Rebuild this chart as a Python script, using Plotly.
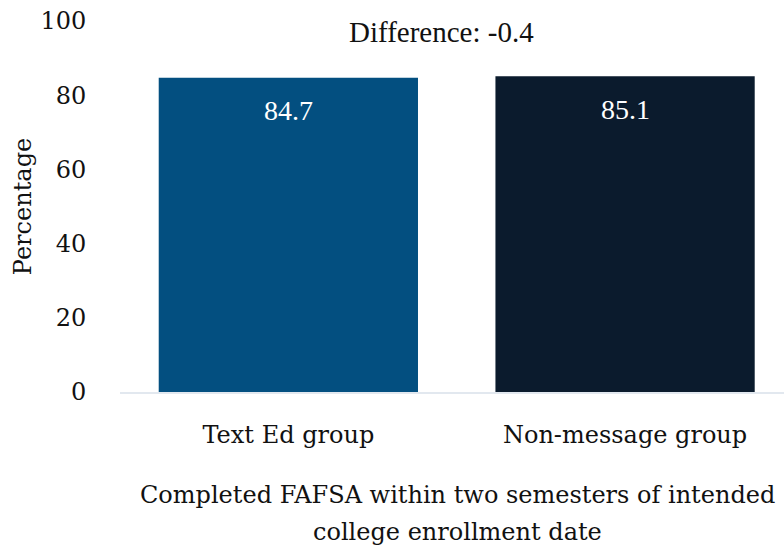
import plotly.graph_objects as go

categories = ["Text Ed group", "Non-message group"]
values = [84.7, 85.1]
bar_colors = ["#034f80", "#0b1b2d"]
value_labels = ["84.7", "85.1"]
y_ticks = [0, 20, 40, 60, 80, 100]
difference_text = "Difference: -0.4"
x_title_lines = ["Completed FAFSA within two semesters of intended", "college enrollment date"]
y_title = "Percentage"

SERIF = "DejaVu Serif"
TIMES = "Liberation Serif"

fig = go.Figure()
fig.add_trace(go.Bar(
    x=categories, y=values,
    marker=dict(color=bar_colors, line=dict(width=0)),
    width=0.77, showlegend=False, hoverinfo="x+y",
))

annotations = [
    dict(x=0.454, y=97, xref="x", yref="y", text=difference_text,
         showarrow=False, font=dict(family=TIMES, size=29, color="#111111")),
]
for c, v, t in zip(categories, values, value_labels):
    annotations.append(dict(x=c, y=v, xref="x", yref="y", text=t, showarrow=False,
                            yanchor="middle", yshift=-33,
                            font=dict(family=TIMES, size=28, color="white")))
# plot area spans y 21..392 px, x 120..784 px
for i, line in enumerate(x_title_lines):
    annotations.append(dict(x=0.509, y=(392 - 495 - 37 * i) / 371, xref="paper", yref="paper",
                            text=line, showarrow=False, yanchor="middle",
                            font=dict(family=SERIF, size=24, color="#111111")))

fig.update_layout(
    width=784, height=546,
    margin=dict(l=120, r=0, t=21, b=154),
    plot_bgcolor="white", paper_bgcolor="white",
    font=dict(family=SERIF, size=24, color="#111111"),
    xaxis=dict(
        range=[-0.5, 1.472], showgrid=False, zeroline=False,
        showline=True, linecolor="#e2e8ef", linewidth=2,
        ticks="outside", ticklen=20, tickcolor="rgba(0,0,0,0)",
        tickfont=dict(family=SERIF, size=24),
    ),
    yaxis=dict(
        range=[0, 100], tickvals=y_ticks, showgrid=False, zeroline=False,
        showline=False, ticks="outside", ticklen=28, tickcolor="rgba(0,0,0,0)",
        tickfont=dict(family=SERIF, size=24),
        title=dict(text=y_title, font=dict(family=SERIF, size=24), standoff=1),
    ),
    annotations=annotations,
)

fig.write_html("out.html")
